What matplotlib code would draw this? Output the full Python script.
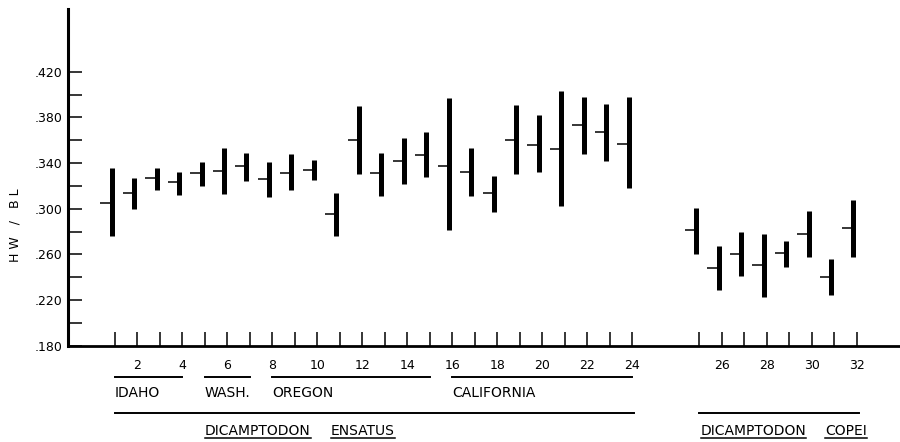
import numpy as np
import matplotlib
matplotlib.use("Agg")
import matplotlib.pyplot as plt
from matplotlib.transforms import blended_transform_factory
from matplotlib.lines import Line2D

plt.rcParams['font.family'] = 'DejaVu Sans'

# HW/BL per sample: mean, range low, range high
samples = list(range(1, 33))
means = [.305, .314, .327, .323, .331, .333, .337, .326, .331, .334,
         .295, .360, .331, .342, .347, .337, .332, .314, .360, .356,
         .352, .373, .367, .357,
         .281, .248, .260, .251, .261, .278, .240, .283]
lows = [.276, .300, .316, .312, .320, .313, .324, .310, .316, .325,
        .276, .330, .311, .322, .328, .281, .311, .297, .330, .332,
        .302, .348, .342, .318,
        .260, .229, .241, .223, .249, .258, .224, .258]
highs = [.336, .327, .336, .332, .341, .353, .349, .341, .348, .343,
         .314, .390, .349, .362, .367, .397, .353, .329, .391, .382,
         .403, .398, .392, .398,
         .301, .267, .280, .278, .272, .298, .256, .308]

# locality groups (label, first sample, last sample)
groups = [("IDAHO", 1, 4), ("WASH.", 5, 7), ("OREGON", 8, 15), ("CALIFORNIA", 16, 24)]
# species (words, first sample, last sample)
species = [(["DICAMPTODON", "ENSATUS"], 1, 24), (["DICAMPTODON", "COPEI"], 25, 32)]

yticks = np.arange(0.18, 0.421, 0.04)
yminor = np.arange(0.20, 0.41, 0.04)

# positions on the x axis: gap of two slots between the species
samples = np.array(samples)
pos = samples + np.where(samples > 24, 2, 0)
def p(n):
    return n if n <= 24 else n + 2

W, H = 900, 442
fig = plt.figure(figsize=(W / 100, H / 100), dpi=100)
ax_l, ax_b, ax_w, ax_h = 68, 96.3, 832, 336.7
ax = fig.add_axes([ax_l / W, ax_b / H, ax_w / W, ax_h / H])

bx = pos - 0.15
ax.vlines(bx, lows, highs, color='black', lw=3.6, capstyle='butt')
ax.hlines(means, bx - 0.5, bx, color='black', lw=1.1)

ax.set_xlim(-1.09, 35.92)
ax.set_ylim(0.18, 0.4749)

for s in ['top', 'right']:
    ax.spines[s].set_visible(False)
ax.spines['left'].set_linewidth(2.2)
ax.spines['bottom'].set_linewidth(2.0)

ax.set_yticks(yticks)
ax.set_yticklabels([f"{v:.3f}"[1:] for v in yticks])
ax.set_yticks(yminor, minor=True)
ax.tick_params(axis='y', which='both', direction='in', length=10, width=1.1,
               pad=4.3, labelsize=9)

ax.set_xticks(pos)
ax.set_xticklabels([str(n) if n % 2 == 0 else '' for n in samples])
ax.tick_params(axis='x', direction='in', length=10, width=1.1, pad=9.3,
               labelsize=9)

fig.text(15 / W, 1 - 225 / H, "H W   /   B L", rotation=90, ha='center',
         va='center', fontsize=9)

tr = blended_transform_factory(ax.transData, ax.transAxes)
def below(px):
    return -px / ax_h

for name, a, b in groups:
    ax.plot([p(a), p(b)], [below(31)] * 2, color='black', lw=1.4,
            transform=tr, clip_on=False)
    ax.text(p(a), below(51), name, transform=tr, ha='left', va='baseline',
            fontsize=10)

word_texts = []
for words, a, b in species:
    ax.plot([p(a), p(b) + 0.1], [below(67.5)] * 2, color='black', lw=1.4,
            transform=tr, clip_on=False)
    x0 = p(a) + (4 if a == 1 else 0.05)
    for i, w in enumerate(words):
        xw = x0 if i == 0 else x0 + (5.6 if a == 1 else 5.55)
        t = ax.text(xw, below(89.3), w, transform=tr, ha='left',
                    va='baseline', fontsize=10)
        word_texts.append(t)

fig.canvas.draw()
r = fig.canvas.get_renderer()
inv = fig.transFigure.inverted()
uy = 1 - 437.5 / H
for t in word_texts:
    bb = t.get_window_extent(r)
    xa, _ = inv.transform((bb.x0, 0))
    xb, _ = inv.transform((bb.x1, 0))
    fig.add_artist(Line2D([xa, xb], [uy, uy], color='black', lw=1.1,
                          transform=fig.transFigure))

fig.savefig("out.png", dpi=100)
